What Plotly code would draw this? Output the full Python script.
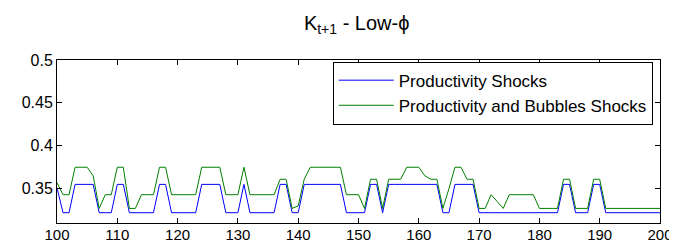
import plotly.graph_objects as go

t = list(range(100, 201))

# Productivity Shocks (blue)
prod_shocks = (
    [0.351] + [0.322]*2 + [0.355]*4 + [0.322]*3 + [0.355]*2 + [0.322]*5 +
    [0.355]*2 + [0.322]*5 + [0.355]*4 + [0.322]*3 + [0.355] + [0.322]*5 +
    [0.355]*2 + [0.322]*2 + [0.355]*7 + [0.322]*4 + [0.355]*2 + [0.322] +
    [0.355]*9 + [0.322]*2 + [0.355]*4 + [0.322]*14 + [0.355]*2 + [0.322]*3 +
    [0.355]*2 + [0.322]*10
)

# Productivity and Bubbles Shocks (green)
prod_bubble_shocks = (
    [0.357] + [0.343]*2 + [0.375]*3 + [0.365] + [0.327] + [0.343]*2 +
    [0.375]*2 + [0.327]*2 + [0.343]*3 + [0.375]*2 + [0.343]*5 + [0.375]*4 +
    [0.343]*3 + [0.375] + [0.343]*5 + [0.361]*2 + [0.327] + [0.330] +
    [0.361] + [0.375]*6 + [0.343]*3 + [0.327] + [0.361]*2 + [0.327] +
    [0.361]*3 + [0.375]*3 + [0.365] + [0.361]*2 + [0.327] + [0.350] +
    [0.375]*2 + [0.361]*2 + [0.327]*2 + [0.343] + [0.335] + [0.327] +
    [0.343]*5 + [0.327]*4 + [0.361]*2 + [0.327]*3 + [0.361]*2 + [0.327]*10
)

x_ticks = list(range(100, 201, 10))
y_ticks = [0.35, 0.4, 0.45, 0.5]
y_ticktext = ["0.35", "0.4", "0.45", "0.5"]

fig = go.Figure()
fig.add_trace(go.Scatter(x=t, y=prod_shocks, mode="lines",
                         name="Productivity Shocks",
                         line=dict(color="#0000ff", width=1)))
fig.add_trace(go.Scatter(x=t, y=prod_bubble_shocks, mode="lines",
                         name="Productivity and Bubbles Shocks",
                         line=dict(color="#008000", width=1)))

font_family = "Liberation Sans, Arial, sans-serif"
fig.update_layout(
    width=677, height=247,
    margin=dict(l=49, r=17, t=52, b=27),
    paper_bgcolor="white", plot_bgcolor="white",
    font=dict(family=font_family, size=15, color="black"),
    title=dict(text="K<sub>t+1</sub> - Low-ϕ", x=0.515, xanchor="center",
               y=1 - 8/247, yanchor="top", yref="container",
               font=dict(size=20, color="black")),
    showlegend=True,
    legend=dict(x=0.988, xanchor="right", y=0.99, yanchor="top",
                bgcolor="white", bordercolor="black", borderwidth=1,
                font=dict(size=17), itemwidth=55, tracegroupgap=0),
)
fig.update_xaxes(range=[100, 200], tickvals=x_ticks, ticks="inside", ticklen=5,
                 showline=True, linecolor="black", linewidth=1, mirror="ticks",
                 showgrid=False, zeroline=False, tickcolor="black",
                 ticklabelstandoff=-2)
fig.update_yaxes(range=[0.31, 0.5], tickvals=y_ticks, ticktext=y_ticktext,
                 ticks="inside", ticklen=5, tickfont=dict(size=16),
                 showline=True, linecolor="black", linewidth=1, mirror="ticks",
                 showgrid=False, zeroline=False, tickcolor="black")

fig.write_html("out.html")
